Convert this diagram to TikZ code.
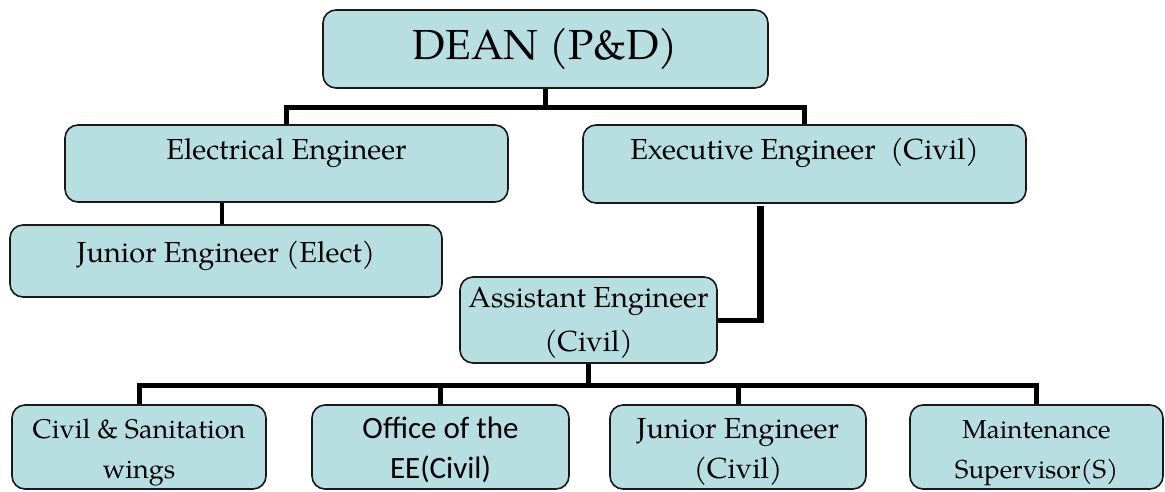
\documentclass[tikz,border=0pt]{standalone}
\usepackage{fontspec}
\setmainfont{texgyrepagella}[Extension=.otf,UprightFont=*-regular,BoldFont=*-bold,ItalicFont=*-italic,BoldItalicFont=*-bolditalic]
\newfontfamily\calibrifont{Carlito}
\definecolor{boxfill}{RGB}{183,223,225}
\definecolor{boxline}{RGB}{25,25,25}
\tikzset{
  post/.style={draw=boxline, fill=boxfill, line width=1.6pt, rounded corners=13pt, inner sep=0pt, align=center},
  wing/.style={post, text height=73pt, text depth=11pt},
  bus/.style={line width=5pt, draw=black},
}
\newcommand\fs[2]{\fontsize{#1}{#2}\selectfont}

\begin{document}
\begin{tikzpicture}[x=1pt,y=-1pt]
		%%%%% START %%%%%
		\useasboundingbox (0,0) rectangle (1165,491);
		
		\node[post, minimum width=445pt, minimum height=78pt, font=\fs{42}{50}] (dean) at (545.5,49) {DEAN (P\&D)};
		
		\node[post, minimum width=443pt, text height=34pt, text depth=43pt, font=\fs{29}{44}] (elec) at (286.5,163.5) {Electrical Engineer};
		\node[post, minimum width=443pt, text height=34pt, text depth=44pt, font=\fs{29}{44}] (exec) at (804.5,164) {Executive Engineer~ (Civil)};
		\node[post, minimum width=432pt, text height=37pt, text depth=35pt, font=\fs{29}{44}] (jelec) at (226,261) {Junior Engineer (Elect)};
		
		\node[post, minimum width=257pt, text height=74pt, text depth=12pt, font=\fs{29}{44}] (ae) at (588.5,320) {Assistant Engineer\\(Civil)};
		
		\node[wing, minimum width=254pt, font=\fs{27}{40}] (civil) at (139,447) {Civil \& Sanitation\\wings};
		\node[wing, minimum width=257pt, font=\calibrifont\fs{31}{40}] (office) at (440.5,447) {Office of the\\EE(Civil)};
		\node[wing, minimum width=256pt, font=\fs{29}{40}] (jcivil) at (738,447) {Junior Engineer\\(Civil)};
		\node[wing, minimum width=253pt, font=\fs{26}{40}] (maint) at (1036.5,447) {Maintenance\\Supervisor(S)};
		
		% dean to the two engineers
		\coordinate (topbus) at ([yshift=-19pt]dean.south);
		\draw[bus] (dean.south) -- (topbus);
		\draw[bus] (elec.north) |- (topbus) -| (exec.north);
		\draw[bus, line width=4pt] ([xshift=-4pt]jelec.north) -- ([xshift=-4pt]jelec.north |- elec.south);
		
		% executive engineer to assistant engineer
		\coordinate (aehook) at ([xshift=43pt]ae.east);
		\draw[bus] (ae.east) -- (aehook);
		\draw[bus, line width=7pt] ([yshift=-2pt]exec.south -| aehook) -- ([yshift=-3pt]aehook);
		
		% assistant engineer to the four wings
		\coordinate (lowbus) at ([yshift=-22pt]ae.south);
		\draw[bus] (ae.south) -- (lowbus);
		\draw[bus] (civil.north) |- (lowbus) -| (maint.north);
		\draw[bus] (office.north) -- (office.north |- lowbus);
		\draw[bus] (jcivil.north) -- (jcivil.north |- lowbus);
		
		%%%%% END %%%%%
\end{tikzpicture}
\end{document}
